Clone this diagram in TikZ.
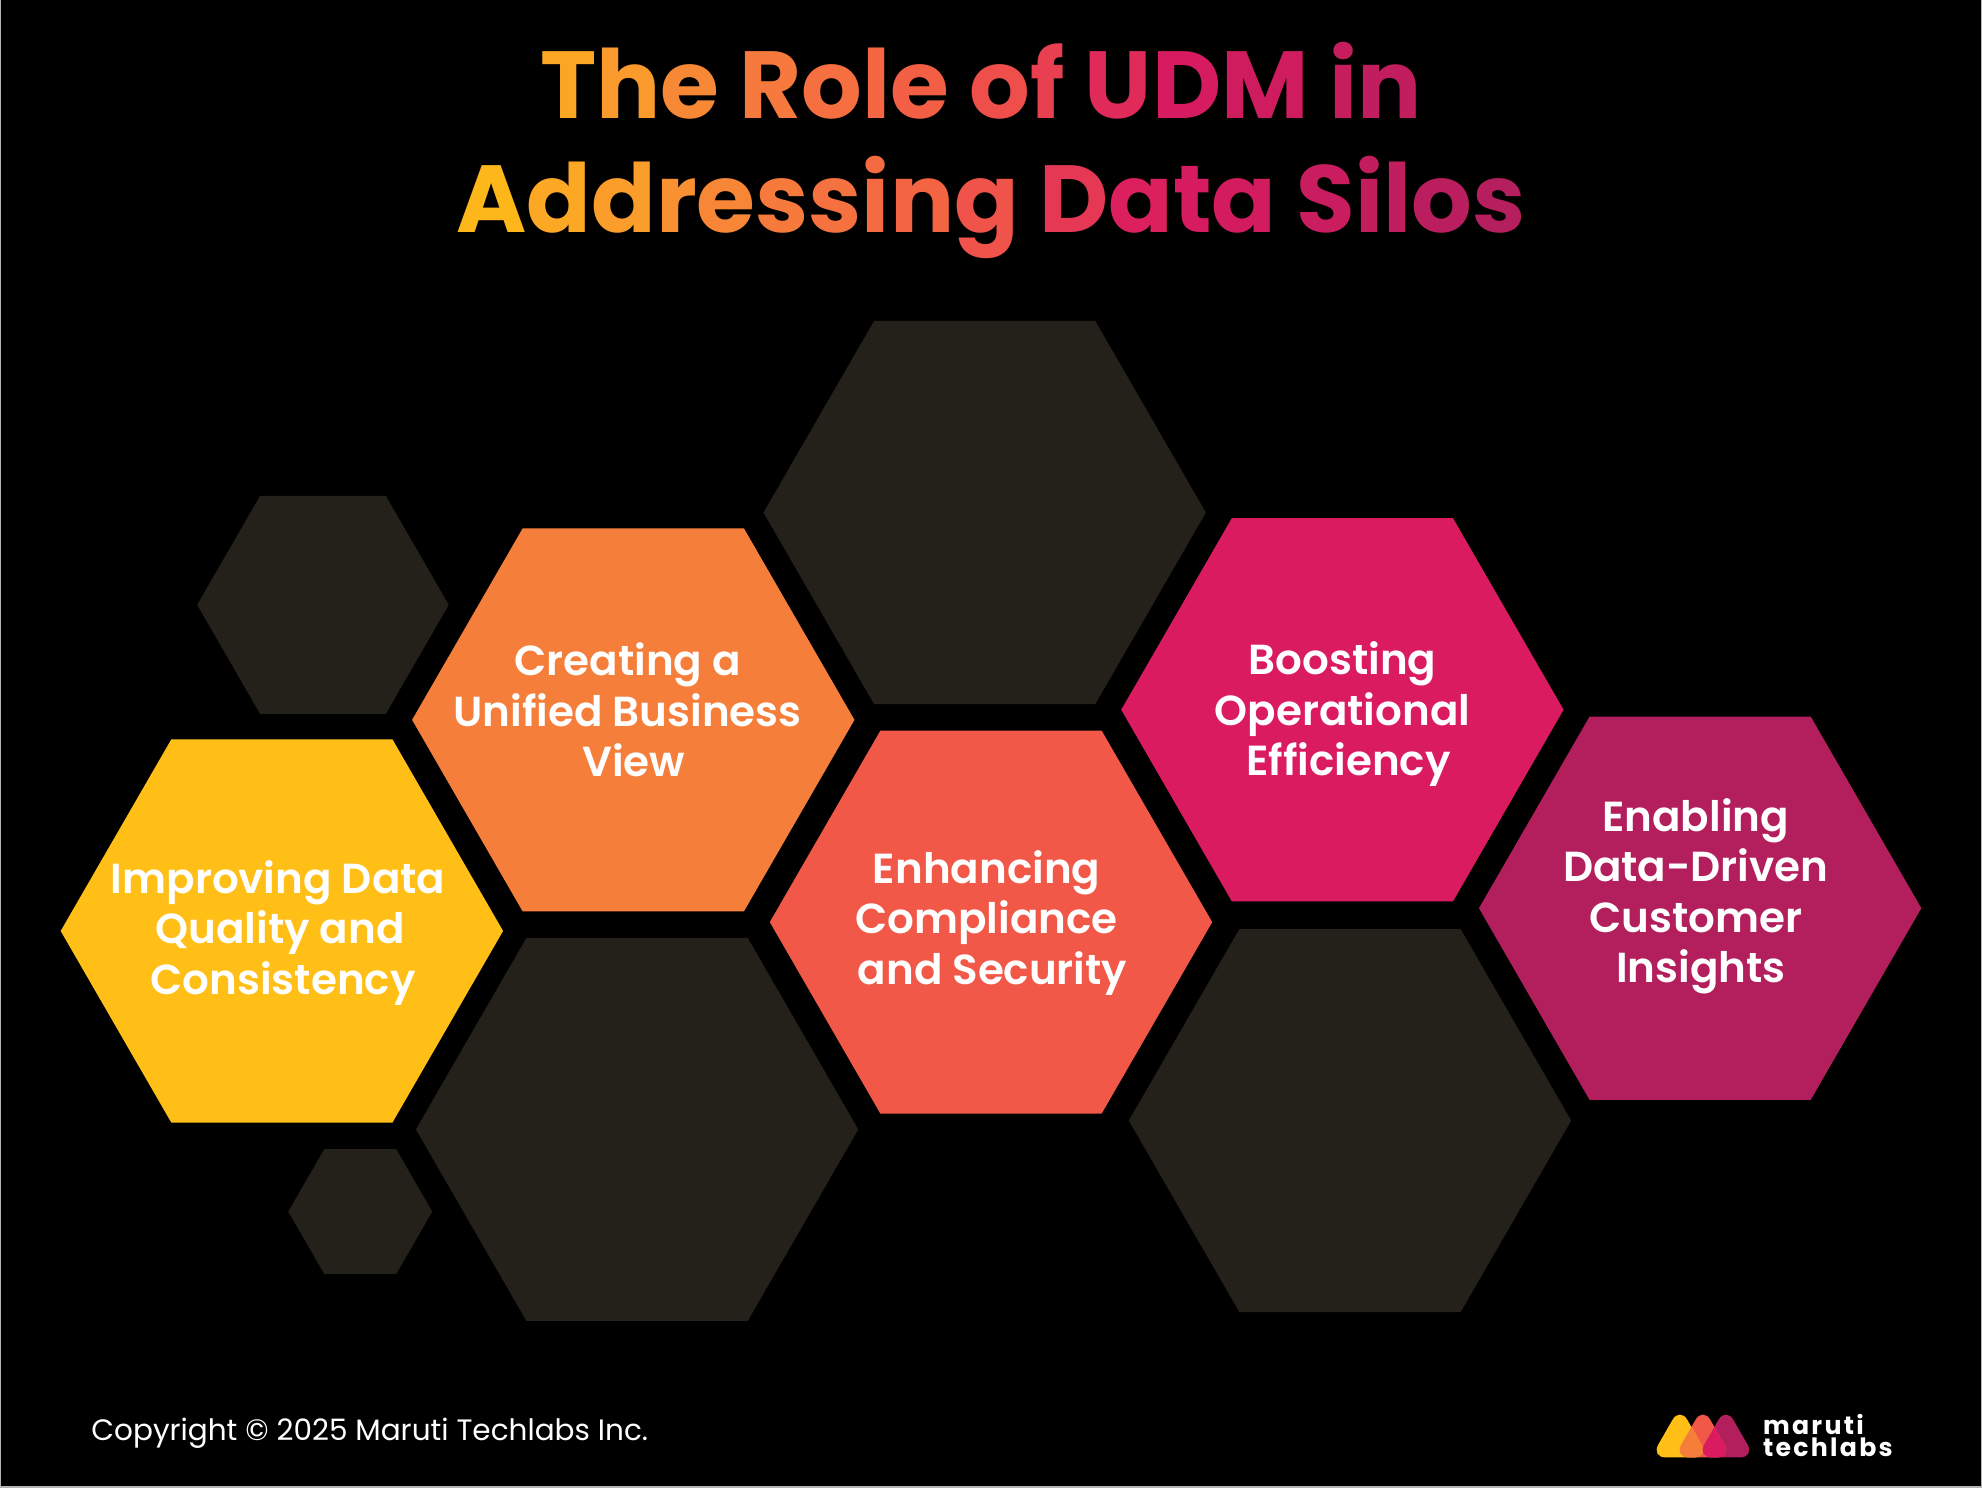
\documentclass[tikz,border=0pt]{standalone}
\usepackage{fontspec}
\setmainfont{Poppins}
\newfontfamily\semib{Poppins}[UprightFont=* SemiBold]
\newfontfamily\titlef{Poppins}[UprightFont=* Bold]
\newfontfamily\logof{Poppins}[UprightFont=* Bold,LetterSpace=9]
\usetikzlibrary{shapes.geometric}
\definecolor{hY}{HTML}{FFBF17}
\definecolor{hO}{HTML}{F67E3B}
\definecolor{hR}{HTML}{F25847}
\definecolor{hM}{HTML}{DA1B60}
\definecolor{hP}{HTML}{B31F5D}
\definecolor{hD}{HTML}{24211B}
\definecolor{hB}{HTML}{B4B4B4}
\newcommand{\gl}[2]{\textcolor{#1}{#2}}
\tikzset{
  x=0.63202pt,y=-0.63202pt,
  hexbig/.style={regular polygon,regular polygon sides=6,minimum size=221.2pt,inner sep=0pt,outer sep=0pt,draw=none},
  hexsmall/.style={hexbig,minimum size=125.8pt},
  hextiny/.style={hexbig,minimum size=72pt},
  hexlabel/.style={text=white,align=center,font=\semib\fontsize{21}{25.2}\selectfont,inner sep=0pt},
  titleline/.style={font=\titlef\fontsize{47.65}{57}\selectfont,inner sep=0pt,anchor=base},
  logoname/.style={anchor=base west,text=white,inner sep=0pt,font=\logof\fontsize{12.6}{14}\selectfont},
}
\begin{document}
\begin{tikzpicture}
\useasboundingbox (0,0) rectangle (1568,1177.2);
\fill[hB] (0,0) rectangle (1568,1177.2);
\fill[black] (1,0) rectangle (1567,1175.6);
% dark hexagons
\node[hexbig,fill=hD] (dtop) at (779,405.5) {};
\node[hexbig,fill=hD] (dbl) at (504,893.5) {};
\node[hexbig,fill=hD] (dbr) at (1068,886.5) {};
\node[hexsmall,fill=hD] (dsm) at (255.5,478.5) {};
\node[hextiny,fill=hD] (dti) at (285,958.5) {};
% coloured hexagons
\node[hexbig,fill=hY] (hy) at (223,736.5) {};
\node[hexbig,fill=hO] (ho) at (501,569.5) {};
\node[hexbig,fill=hR] (hr) at (784,729.5) {};
\node[hexbig,fill=hM] (hm) at (1062,561.5) {};
\node[hexbig,fill=hP] (hp) at (1345,718.5) {};
% labels
\node[hexlabel] (ly) at (220,738) {Improving Data\\\hspace*{2pt}Quality and\\\hspace*{5pt}Consistency};
\node[hexlabel] (lo) at (496.5,561.5) {Creating a\\Unified Business\\\hspace*{6pt}View};
\node[hexlabel] (lr) at (780.5,730) {Enhancing\\Compliance\\\hspace*{6pt}and Security};
\node[hexlabel] (lm) at (1062,565) {Boosting\\Operational\\\hspace*{6pt}Efficiency};
\node[hexlabel] (lp) at (1341.5,709) {Enabling\\Data-Driven\\Customer\\\hspace*{5pt}Insights};
% title
\node[titleline] (t1) at (776,94) {\gl{hY!63!hO}{T}\gl{hY!42!hO}{h}\gl{hY!16!hO}{e} \gl{hO!86!hR}{R}\gl{hO!61!hR}{o}\gl{hO!39!hR}{l}\gl{hO!19!hR}{e} \gl{hR!85!hM}{o}\gl{hR!59!hM}{f} \gl{hR!24!hM}{U}\gl{hM!93!hP}{D}\gl{hM!72!hP}{M} \gl{hM!50!hP}{i}\gl{hM!39!hP}{n}};
\node[titleline] (t2) at (784,184) {\gl{hY!88!hO}{A}\gl{hY!65!hO}{d}\gl{hY!47!hO}{d}\gl{hY!28!hO}{r}\gl{hY!12!hO}{e}\gl{hO!89!hR}{s}\gl{hO!67!hR}{s}\gl{hO!50!hR}{i}\gl{hO!31!hR}{n}\gl{hR!91!hM}{g} \gl{hR!47!hM}{D}\gl{hR!9!hM}{a}\gl{hM!93!hP}{t}\gl{hM!80!hP}{a} \gl{hM!56!hP}{S}\gl{hM!43!hP}{i}\gl{hM!33!hP}{l}\gl{hM!20!hP}{o}\gl{hM!6!hP}{s}};
% footer
\node[anchor=base west,text=white,inner sep=0pt,font=\fontsize{14.75}{18}\selectfont] (copy) at (72,1139.3) {Copyright © 2025 Maruti Techlabs Inc.};
% logo
\begin{scope}[shift={(1310,1117)},x=0.5pt,y=-0.5pt,rounded corners=7.5pt]
  \fill[hP] (41,45.5) -- (70,-5) -- (99,45.5) -- cycle;
  \fill[hR] (18,45.5) -- (47,-5) -- (76,45.5) -- cycle;
  \fill[hY] (-5,45.5) -- (24,-5) -- (53,45.5) -- cycle;
  \begin{scope}
    \clip (18,45.5) -- (47,-5) -- (76,45.5) -- cycle;
    \fill[hO] (-5,45.5) -- (24,-5) -- (53,45.5) -- cycle;
    \fill[hM] (41,45.5) -- (70,-5) -- (99,45.5) -- cycle;
  \end{scope}
\end{scope}
\node[logoname] (lg1) at (1394.5,1135) {maruti};
\node[logoname] (lg2) at (1394.5,1152.5) {techlabs};
\end{tikzpicture}
\end{document}
